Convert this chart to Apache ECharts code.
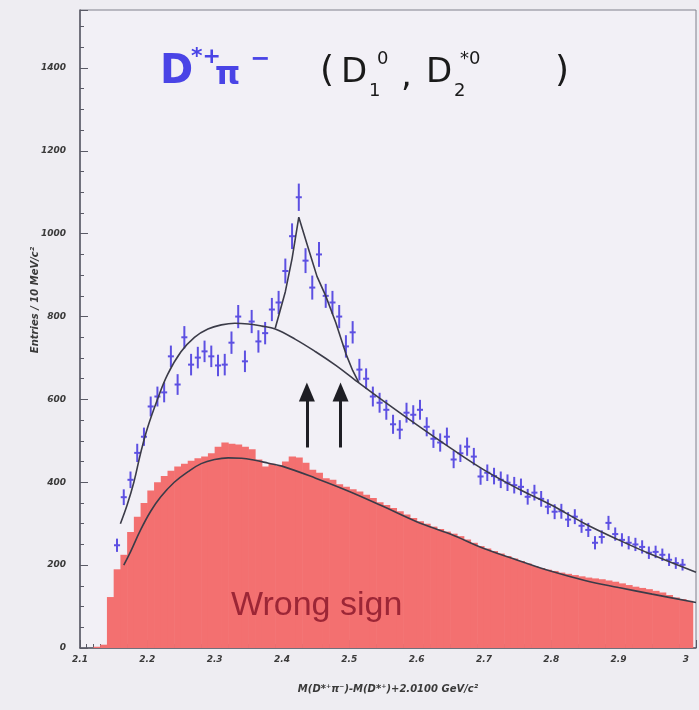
<!DOCTYPE html>
<html>
<head>
<meta charset="utf-8">
<script src="https://cdn.jsdelivr.net/npm/echarts@6/dist/echarts.min.js"></script>
<style>html,body{margin:0;padding:0;background:#eeedf2;}#chart{width:699px;height:710px;}</style>
</head>
<body>
<div id="chart"></div>
<script>
// ---- data ----
const binWidth = 0.01;
const blueStart = 2.155; // centre of first right-sign bin
const blueCounts = [
  248, 364, 406, 471, 510, 583, 607, 617, 704, 636,
  750, 684, 701, 716, 704, 682, 684, 737, 800, 692,
  788, 740, 760, 817, 834, 910, 994, 1088, 935, 870,
  950, 850, 834, 800, 728, 762, 672, 650, 607, 592,
  575, 540, 527, 568, 563, 575, 534, 505, 496, 510,
  455, 470, 486, 462, 414, 423, 415, 406, 399, 393,
  389, 365, 375, 360, 341, 329, 330, 310, 317, 295,
  285, 254, 268, 302, 275, 261, 254, 250, 244, 230,
  232, 225, 213, 205, 201
];
const blueErrors = [
  16, 19, 20, 22, 22, 24, 24, 24, 26, 25,
  27, 26, 26, 26, 26, 26, 26, 27, 28, 26,
  28, 27, 27, 28, 28, 30, 31, 33, 30, 29,
  30, 29, 28, 28, 27, 27, 26, 25, 24, 24,
  24, 23, 23, 24, 23, 24, 23, 22, 22, 22,
  21, 21, 22, 21, 20, 20, 20, 20, 20, 20,
  20, 19, 19, 19, 18, 18, 18, 18, 18, 17,
  17, 16, 16, 17, 16, 16, 16, 16, 16, 15,
  15, 15, 15, 14, 14
];
const redStart = 2.105; // centre of first wrong-sign bin
const redCounts = [
  0, 0, 3, 8, 123, 190, 225, 280, 317, 350,
  380, 400, 415, 428, 438, 445, 452, 458, 462, 470,
  486, 496, 493, 491, 486, 480, 455, 438, 445, 440,
  450, 462, 460, 447, 430, 423, 410, 406, 395, 389,
  383, 378, 370, 362, 352, 345, 338, 330, 322, 314,
  306, 300, 293, 287, 281, 276, 270, 262, 254, 246,
  240, 234, 228, 222, 216, 210, 204, 198, 193, 189,
  186, 182, 179, 176, 173, 170, 168, 166, 163, 160,
  156, 152, 148, 145, 142, 138, 134, 128, 122, 118,
  114
];
// fitted curves
const redFitX = [2.165, 2.175, 2.19, 2.205, 2.22, 2.24, 2.26, 2.28, 2.30, 2.32, 2.34, 2.36, 2.38, 2.40, 2.45, 2.50, 2.55, 2.60, 2.65, 2.70, 2.75, 2.80, 2.85, 2.90, 2.95, 3.015];
const redFitY = [200, 232, 285, 330, 365, 400, 425, 445, 455, 459, 458, 453, 446, 439, 410, 378, 342, 305, 275, 240, 212, 185, 163, 146, 130, 110];
const bgFitX = [2.16, 2.17, 2.18, 2.19, 2.20, 2.215, 2.23, 2.25, 2.27, 2.29, 2.31, 2.33, 2.35, 2.37, 2.39, 2.42, 2.45, 2.48, 2.51, 2.55, 2.60, 2.65, 2.70, 2.75, 2.80, 2.85, 2.90, 2.95, 3.015];
const bgFitY = [300, 345, 400, 470, 530, 600, 660, 715, 750, 770, 780, 784, 782, 777, 770, 745, 715, 682, 645, 597, 539, 483, 430, 385, 345, 300, 261, 225, 183];
const sigFitX = [2.39, 2.405, 2.415, 2.425, 2.44, 2.452, 2.465, 2.48, 2.495, 2.505, 2.514];
const sigFitY = [772, 860, 940, 1040, 960, 897, 850, 785, 710, 670, 641];
const arrowX = [2.437, 2.487];
const arrowFrom = 484, arrowTo = 618;
const yTicks = [0, 200, 400, 600, 800, 1000, 1200, 1400];
const xTickLabels = ['2.1', '2.2', '2.3', '2.4', '2.5', '2.6', '2.7', '2.8', '2.9', '3'];

// ---- build ----
const BLUE = '#5d50e2';
const RED = '#f37070';
const FIT = '#3b3b48';
const TITLE_BLUE = '#4a44e6';
const zip = (xs, ys) => xs.map((x, i) => [x, ys[i]]);
const blueData = blueCounts.map((v, i) => [+(blueStart + i * binWidth).toFixed(3), v, blueErrors[i]]);
const redData = redCounts.map((v, i) => [+(redStart + i * binWidth).toFixed(3), v]);

const chart = echarts.init(document.getElementById('chart'), null, {renderer: 'canvas'});
const axisFont = {fontFamily: 'DejaVu Sans', fontStyle: 'italic', fontWeight: 'bold', fontSize: 9, color: '#3a3a3a'};

function t(text, left, top, size, fill, weight) {
  return {type: 'text', left: left, top: top, z: 10,
    style: {text: text, fontFamily: 'DejaVu Sans', fontSize: size, fontWeight: weight || 'normal', fill: fill}};
}

chart.setOption({
  backgroundColor: '#eeedf2',
  animation: false,
  grid: {left: 80, right: 2, top: 10, bottom: 62, show: true, backgroundColor: '#f2f0f6', borderColor: '#80808c', borderWidth: 1},
  xAxis: {
    type: 'value', min: 2.1, max: 3.015, interval: 0.1,
    axisLine: {show: true, onZero: false, lineStyle: {color: '#5a5a66', width: 1.5}},
    axisTick: {inside: true, length: 8, lineStyle: {color: '#5a5a66'}},
    minorTick: {show: true, splitNumber: 10, length: 4, lineStyle: {color: '#5a5a66'}},
    splitLine: {show: false},
    axisLabel: Object.assign({margin: 7, formatter: v => {
      const k = Math.round((v - 2.1) / 0.1);
      return Math.abs(v - (2.1 + k * 0.1)) < 1e-6 && xTickLabels[k] ? xTickLabels[k] : '';
    }}, axisFont),
    name: 'M(D*⁺π⁻)-M(D*⁺)+2.0100 GeV/c²',
    nameLocation: 'middle', nameGap: 36,
    nameTextStyle: {fontFamily: 'DejaVu Sans', fontStyle: 'italic', fontWeight: 'bold', fontSize: 10, color: '#3a3a3a'}
  },
  yAxis: {
    type: 'value', min: 0, max: 1540, interval: 200,
    axisLine: {show: true, lineStyle: {color: '#5a5a66', width: 1.5}},
    axisTick: {inside: true, length: 8, lineStyle: {color: '#5a5a66'}},
    minorTick: {show: true, splitNumber: 4, length: 4, lineStyle: {color: '#5a5a66'}},
    splitLine: {show: false},
    axisLabel: Object.assign({margin: 14, formatter: v => yTicks.indexOf(Math.round(v)) >= 0 ? String(Math.round(v)) : ''}, axisFont)
  },
  series: [
    {
      type: 'custom', name: 'wrong sign', data: redData, clip: true, z: 1,
      renderItem: (params, api) => {
        const x = api.value(0), v = api.value(1);
        const a = api.coord([x - binWidth / 2, v]);
        const b = api.coord([x + binWidth / 2, 0]);
        return {type: 'rect', shape: {x: a[0], y: a[1], width: b[0] - a[0] + 0.6, height: b[1] - a[1]}, style: {fill: RED}};
      }
    },
    {
      type: 'line', name: 'ws fit', data: zip(redFitX, redFitY), smooth: 0.4, showSymbol: false, z: 4,
      lineStyle: {color: FIT, width: 1.6},
      markLine: {
        silent: true, symbol: ['none', 'triangle'], symbolSize: [16, 19],
        label: {show: false},
        lineStyle: {color: '#1e1e24', width: 3, type: 'solid'},
        data: arrowX.map(x => [{coord: [x, arrowFrom]}, {coord: [x, arrowTo]}])
      }
    },
    {
      type: 'custom', name: 'right sign', data: blueData, clip: true, z: 3,
      renderItem: (params, api) => {
        const x = api.value(0), v = api.value(1), e = api.value(2);
        const tp = api.coord([x, v + e]), b = api.coord([x, v - e]);
        const l = api.coord([x - 0.0045, v]), r = api.coord([x + 0.0045, v]);
        const st = {stroke: BLUE, lineWidth: 2};
        return {type: 'group', children: [
          {type: 'line', shape: {x1: tp[0], y1: tp[1], x2: b[0], y2: b[1]}, style: st},
          {type: 'line', shape: {x1: l[0], y1: l[1], x2: r[0], y2: r[1]}, style: st}
        ]};
      }
    },
    {
      type: 'line', name: 'bg fit', data: zip(bgFitX, bgFitY), smooth: 0.4, showSymbol: false, z: 5,
      lineStyle: {color: FIT, width: 1.6}
    },
    {
      type: 'line', name: 'signal fit', data: zip(sigFitX, sigFitY), smooth: false, showSymbol: false, z: 5,
      lineStyle: {color: FIT, width: 1.6}
    }
  ],
  graphic: [
    t('D', 160, 53, 40, TITLE_BLUE, 'bold'),
    t('*+', 191, 46, 22, TITLE_BLUE, 'bold'),
    t('π', 215, 60, 32, TITLE_BLUE, 'bold'),
    t('−', 250, 48, 24, TITLE_BLUE, 'bold'),
    t('(', 320, 54, 36, '#1a1a1a'),
    t('D', 341, 56, 34, '#1a1a1a'),
    t('1', 369, 82, 18, '#1a1a1a'),
    t('0', 377, 50, 18, '#1a1a1a'),
    t(',', 401, 60, 34, '#1a1a1a'),
    t('D', 426, 56, 34, '#1a1a1a'),
    t('2', 454, 82, 18, '#1a1a1a'),
    t('*0', 460, 50, 18, '#1a1a1a'),
    t(')', 555, 54, 36, '#1a1a1a'),
    {
      type: 'text', x: 35, y: 300, rotation: Math.PI / 2, z: 10,
      style: {text: 'Entries / 10 MeV/c²', fontFamily: 'DejaVu Sans', fontStyle: 'italic', fontWeight: 'bold', fontSize: 10, fill: '#3a3a3a', align: 'center', verticalAlign: 'middle'}
    },
    {
      type: 'text', left: 231, top: 589, z: 10,
      style: {text: 'Wrong sign', fontFamily: 'Liberation Sans', fontSize: 34, fill: '#9c2636'}
    }
  ]
});
</script>
</body>
</html>
